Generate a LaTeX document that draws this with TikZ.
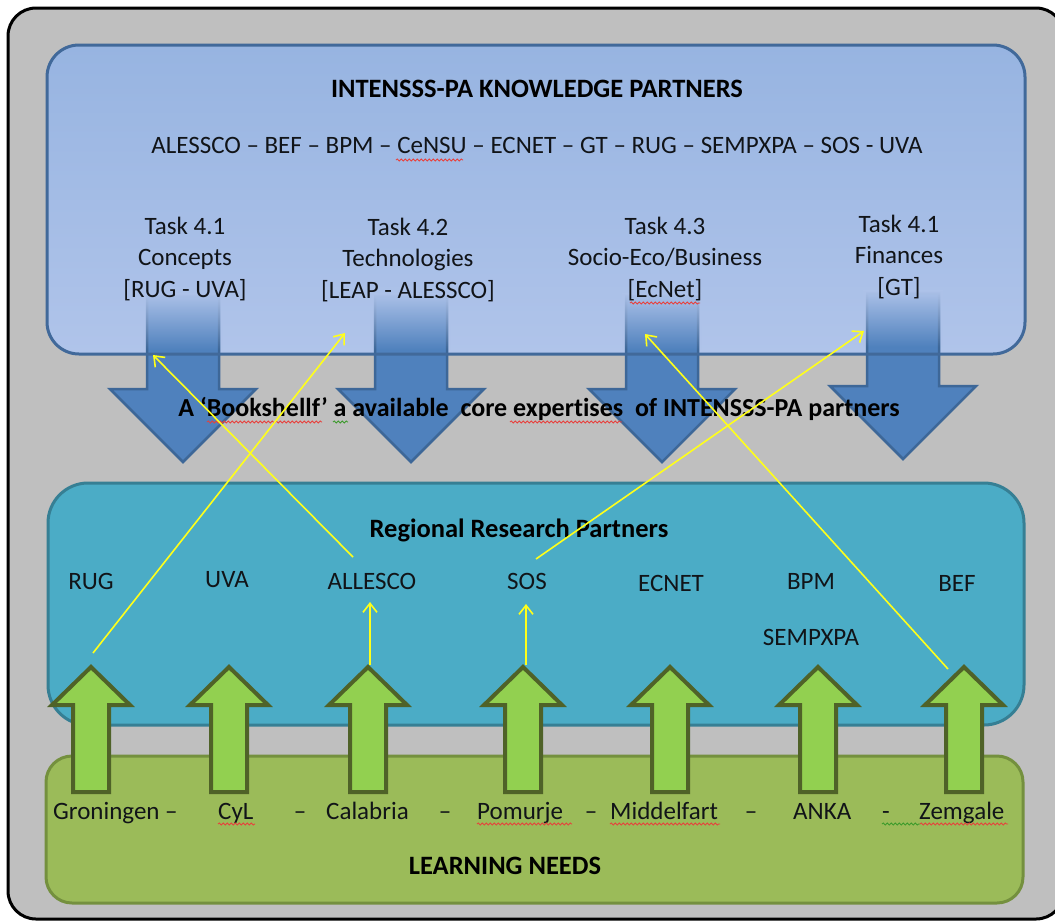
\documentclass[tikz,border=0pt]{standalone}
\usepackage{fontspec}
\setmainfont{Carlito}[Ligatures=NoCommon]
\usetikzlibrary{arrows.meta,fadings,decorations.pathmorphing}

\definecolor{bgGray}{HTML}{BFBFBF}
\definecolor{kpTop}{HTML}{97B4E1}
\definecolor{kpBot}{HTML}{B0C4EA}
\definecolor{kpFade}{HTML}{ADC2E9}
\definecolor{kpBorder}{HTML}{41699A}
\definecolor{arrBlue}{HTML}{4F81BD}
\definecolor{arrBlueBorder}{HTML}{3D6798}
\definecolor{rrFill}{HTML}{4BACC6}
\definecolor{rrBorder}{HTML}{367F94}
\definecolor{lnFill}{HTML}{9BBB59}
\definecolor{lnBorder}{HTML}{74903E}
\definecolor{arrGreen}{HTML}{92D050}
\definecolor{arrGreenBorder}{HTML}{4F6228}
\definecolor{linkYellow}{HTML}{FFFF1A}
\definecolor{txtDark}{HTML}{111418}
\definecolor{squigRed}{HTML}{E8403C}
\definecolor{squigGreen}{HTML}{3A9A2A}

\tikzfading[name=shaftfade, top color=transparent!0, bottom color=transparent!100]

\tikzset{
  txt/.style={inner sep=0pt, text=txtDark, font=\fontsize{25}{31.5}\selectfont},
  boldtxt/.style={inner sep=0pt, text=black, font=\bfseries\fontsize{26.5}{30}\selectfont},
  tasktxt/.style={txt, align=center},
  link/.style={draw=linkYellow, line width=1.6pt, -{Straight Barb[length=9pt,width=14pt]}},
  squig/.style={line width=0.8pt, decorate, decoration={snake, segment length=4pt, amplitude=1.1pt}},
  downarrow/.pic={
    \path[fill=arrBlue, draw=arrBlueBorder, line width=2.5pt, line join=miter]
      (-36,296) -- (36,296) -- (36,389) -- (73,389) -- (0,462) -- (-73,389) -- (-36,389) -- cycle;
    \fill[kpFade, path fading=shaftfade] (-40,293) rectangle (40,350);
  },
  uparrow/.pic={
    \path[fill=arrGreen, draw=arrGreenBorder, line width=4pt, line join=miter]
      (-18,792) -- (-18,705) -- (-39,705) -- (0,667) -- (39,705) -- (18,705) -- (18,792) -- cycle;
  }
}

\begin{document}
\begin{tikzpicture}[x=1pt,y=-1pt]
\useasboundingbox (0,0) rectangle (1055,922);

% outer frame
\path[fill=bgGray, draw=black, line width=3pt, rounded corners=28pt] (8,8) rectangle (1064,919);

% knowledge partners box (fill)
\path[top color=kpTop, bottom color=kpBot, rounded corners=32pt] (47,45) rectangle (1025,354);

% blue down arrows
\pic at (183,0) {downarrow};
\pic at (411,0) {downarrow};
\pic at (662,0) {downarrow};
\pic at (903,-3) {downarrow};

% knowledge partners box border
\draw[kpBorder, line width=3pt, rounded corners=32pt] (47,45) rectangle (1025,354);

% regional research partners box
\path[fill=rrFill, draw=rrBorder, line width=3pt, rounded corners=40pt] (48,483) rectangle (1024,725);

% learning needs box
\path[fill=lnFill, draw=lnBorder, line width=3pt, rounded corners=26pt] (46,756) rectangle (1023,903);

% green up arrows
\pic at (91,0) {uparrow};
\pic at (229,0) {uparrow};
\pic at (368,0) {uparrow};
\pic at (523,0) {uparrow};
\pic at (670,0) {uparrow};
\pic at (818,0) {uparrow};
\pic at (964,0) {uparrow};

% texts: knowledge partners
\node[boldtxt, anchor=base] (kptitle) at (537,97) {INTENSSS-PA KNOWLEDGE PARTNERS};
\node[txt, anchor=base] (kplist) at (537,153) {ALESSCO – BEF – BPM – CeNSU – ECNET – GT – RUG – SEMPXPA – SOS - UVA};
\node[tasktxt] (task1) at (185,259) {Task 4.1\\Concepts\\{[}RUG - UVA{]}};
\node[tasktxt] (task2) at (408,260) {Task 4.2\\Technologies\\{[}LEAP - ALESSCO{]}};
\node[tasktxt] (task3) at (665,259) {Task 4.3\\Socio-Eco/Business\\{[}EcNet{]}};
\node[tasktxt] (task4) at (899,257) {Task 4.1\\Finances\\{[}GT{]}};

\node[boldtxt, anchor=base, font=\bfseries\fontsize{26}{30}\selectfont] (shelf) at (539,416) {A ‘Bookshellf’ a available\ \ core expertises\ \ of INTENSSS-PA partners};

% regional partners
\node[boldtxt, anchor=base] (rrtitle) at (519,537) {Regional Research Partners};
\node[txt, anchor=base] (rRUG) at (91,589) {RUG};
\node[txt, anchor=base] (rUVA) at (227,587) {UVA};
\node[txt, anchor=base] (rALL) at (372,589) {ALLESCO};
\node[txt, anchor=base] (rSOS) at (527,589) {SOS};
\node[txt, anchor=base] (rECN) at (671,591) {ECNET};
\node[txt, anchor=base] (rBPM) at (811,589) {BPM};
\node[txt, anchor=base] (rSEM) at (811,645) {SEMPXPA};
\node[txt, anchor=base] (rBEF) at (957,591) {BEF};

% learning needs
\node[txt, anchor=base west] (lGro) at (53,819) {Groningen –};
\node[txt, anchor=base west] (lCyL) at (218,819) {CyL};
\node[txt, anchor=base] (d1) at (300,819) {–};
\node[txt, anchor=base west] (lCal) at (326,819) {Calabria};
\node[txt, anchor=base] (d2) at (445,819) {–};
\node[txt, anchor=base west] (lPom) at (477,819) {Pomurje};
\node[txt, anchor=base] (d3) at (591,819) {–};
\node[txt, anchor=base west] (lMid) at (610,819) {Middelfart};
\node[txt, anchor=base] (d4) at (751,819) {–};
\node[txt, anchor=base west] (lANK) at (793,819) {ANKA};
\node[txt, anchor=base] (d5) at (886,819) {-};
\node[txt, anchor=base west] (lZem) at (919,819) {Zemgale};
\node[boldtxt, anchor=base] (lntitle) at (505,874) {LEARNING NEEDS};

% spell-check squiggles
\draw[squig, squigRed] (396,160) -- (463,160);
\draw[squig, squigRed] (207,422) -- (322,422);
\draw[squig, squigGreen] (333,422) -- (348,422);
\draw[squig, squigRed] (510,422) -- (622,422);
\draw[squig, squigRed] (630,303) -- (700,303);
\draw[squig, squigRed] (218,824) -- (255,824);
\draw[squig, squigRed] (477,824) -- (572,824);
\draw[squig, squigRed] (610,824) -- (720,824);
\draw[squig, squigGreen] (882,824) -- (920,824);
\draw[squig, squigRed] (920,824) -- (1008,824);

% yellow link coordinates
\coordinate (gStart) at (93,653);
\coordinate (gEnd) at (345,333);
\coordinate (aStart) at (353,557);
\coordinate (aEnd) at (153,355);
\coordinate (cStart) at (370,665);
\coordinate (cEnd) at (370,602);
\coordinate (pStart) at (526,665);
\coordinate (pEnd) at (526,604);
\coordinate (sStart) at (536,559);
\coordinate (sEnd) at (864,331);
\coordinate (zStart) at (948,669);
\coordinate (zEnd) at (645,334);

\draw[link] (gStart) -- (gEnd);
\draw[link] (aStart) -- (aEnd);
\draw[link] (cStart) -- (cEnd);
\draw[link] (pStart) -- (pEnd);
\draw[link] (sStart) -- (sEnd);
\draw[link] (zStart) -- (zEnd);
\end{tikzpicture}
\end{document}
